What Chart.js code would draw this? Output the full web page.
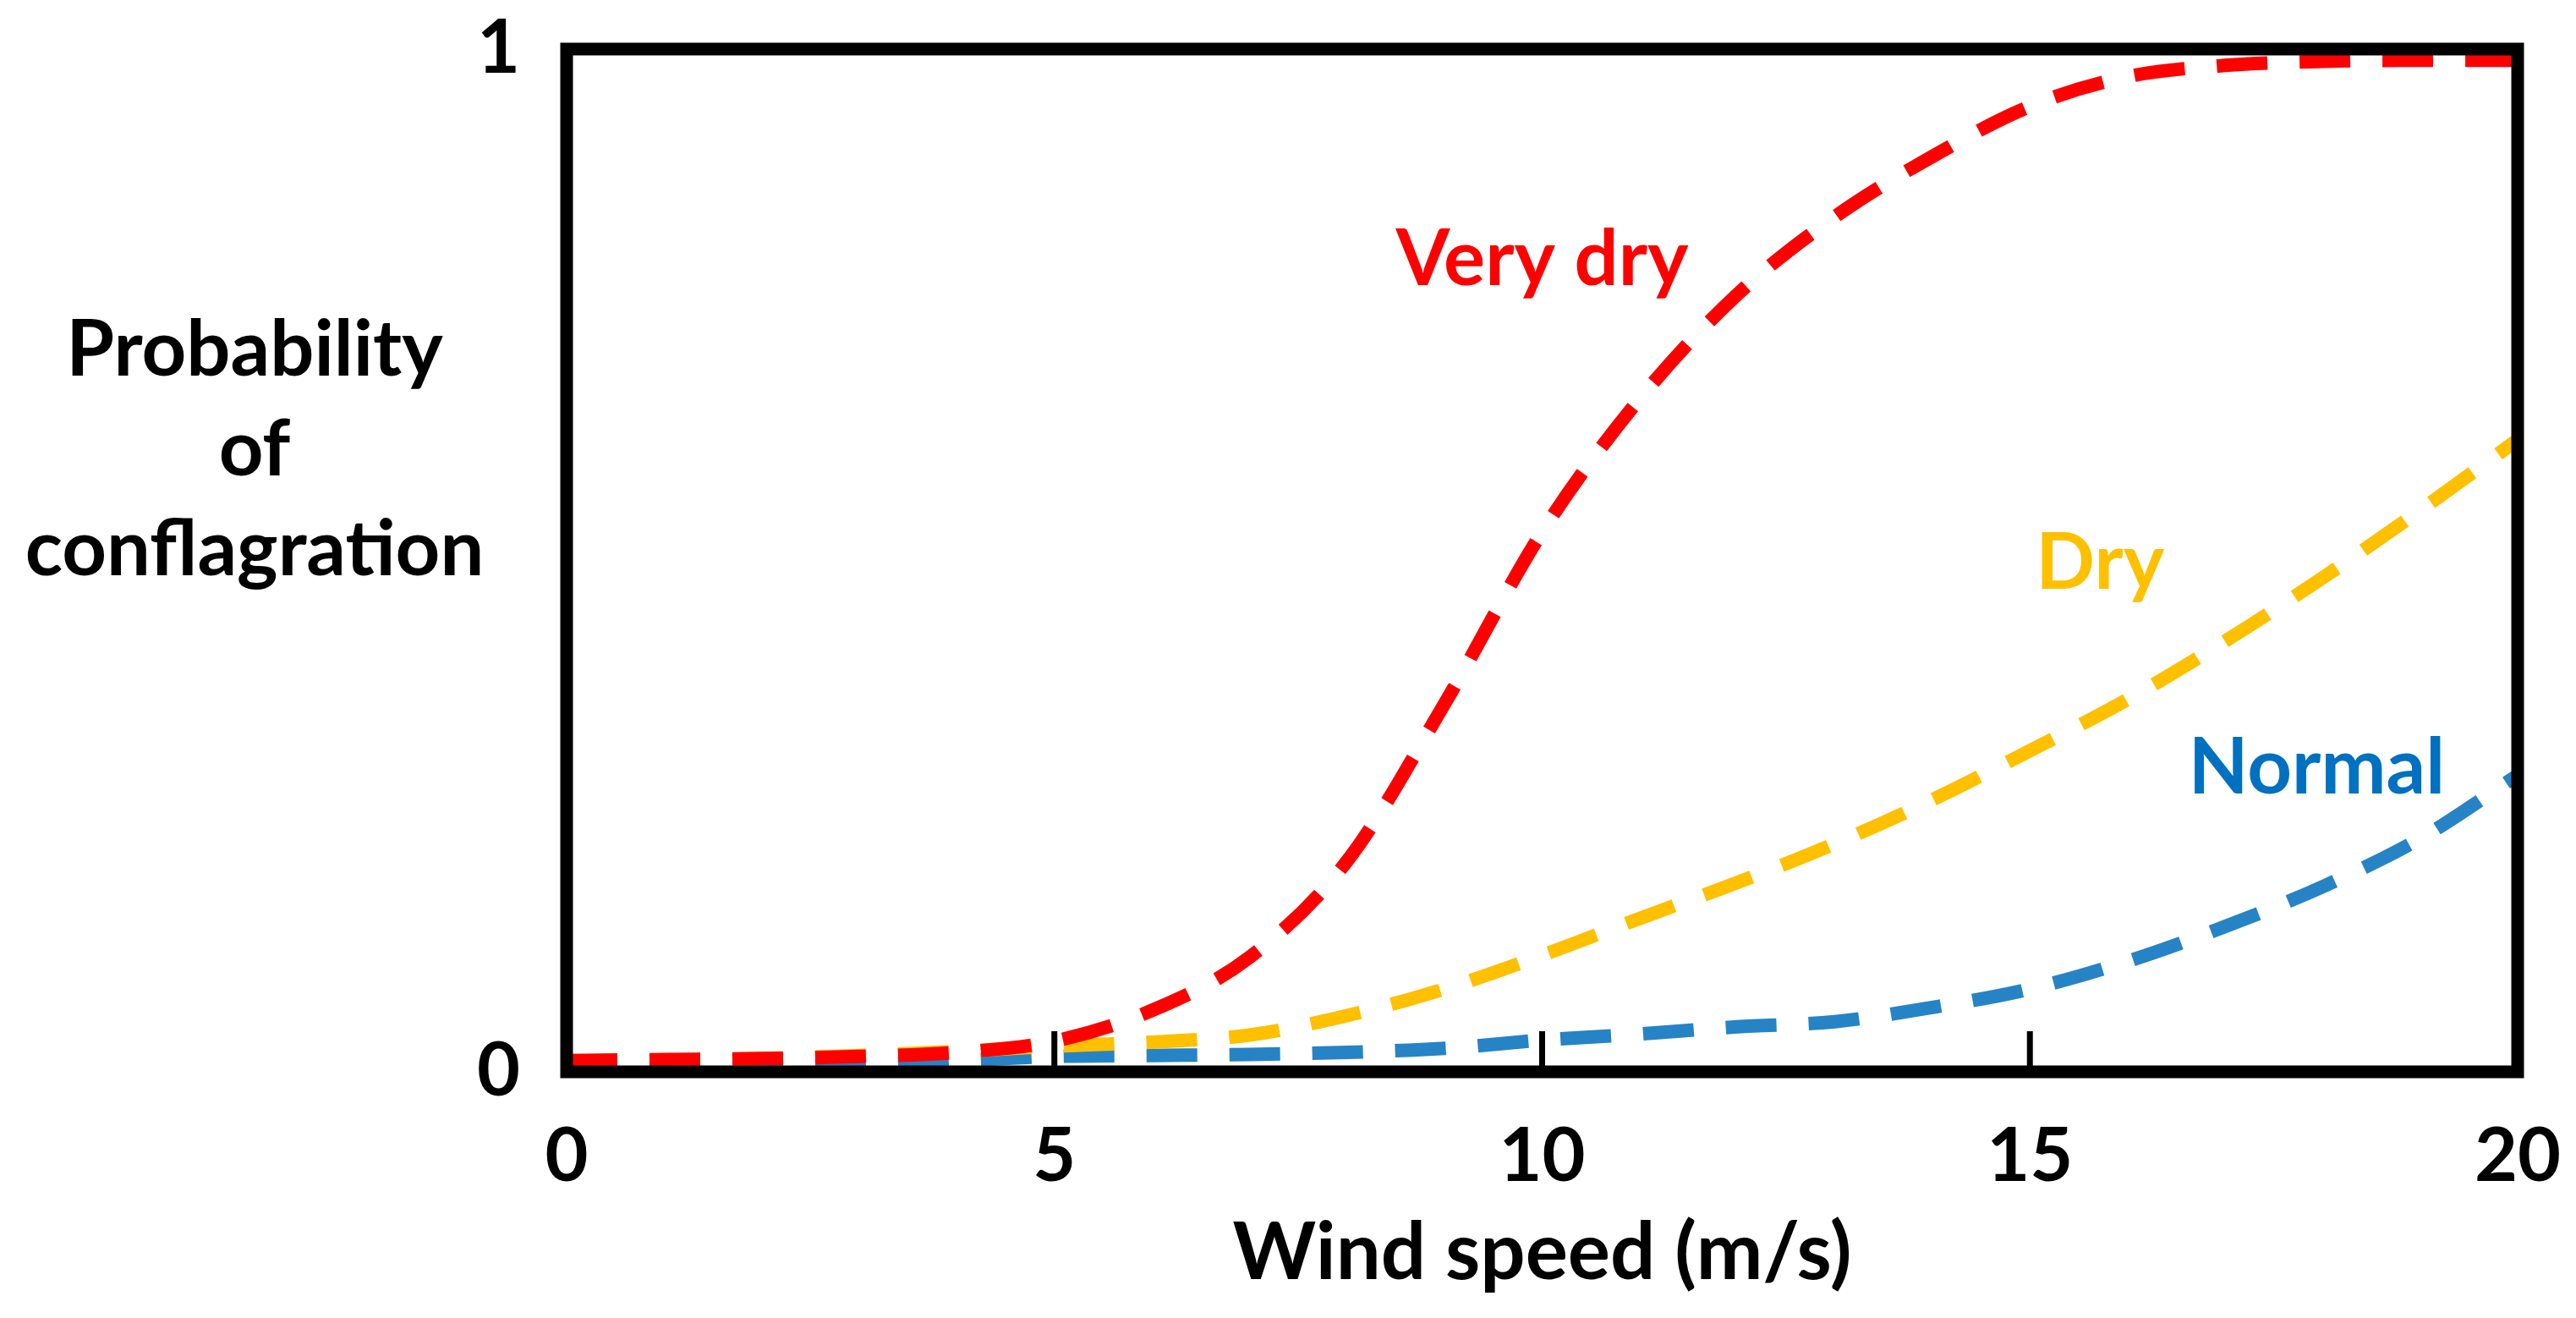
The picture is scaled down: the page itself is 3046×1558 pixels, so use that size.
<!DOCTYPE html>
<html>
<head>
<meta charset="utf-8">
<script src="https://cdn.jsdelivr.net/npm/chart.js@4.4.0/dist/chart.umd.min.js"></script>
<style>
    html, body { margin: 0; padding: 0; background: #fff; }
    #wrap { width: 3046px; height: 1558px; position: relative; }
</style>
</head>
<body>
<div id="wrap"><canvas id="chart"></canvas></div>
<script>
// wind speed (m/s) and the three probability curves
const windSpeed = [0, 1, 2, 3, 4, 5, 6, 7, 8, 9, 10, 11, 12, 13, 14, 15, 16, 17, 18, 19, 20];
const veryDry = [0.011, 0.012, 0.013, 0.015, 0.019, 0.03, 0.06, 0.112, 0.206, 0.36, 0.528, 0.658, 0.76, 0.836, 0.895, 0.944, 0.973, 0.984, 0.988, 0.989, 0.989];
const dry = [0.01, 0.011, 0.013, 0.016, 0.02, 0.025, 0.029, 0.036, 0.055, 0.081, 0.114, 0.15, 0.185, 0.223, 0.266, 0.314, 0.364, 0.421, 0.483, 0.549, 0.618];
const normal = [0.002, 0.003, 0.004, 0.007, 0.011, 0.015, 0.016, 0.017, 0.019, 0.023, 0.031, 0.037, 0.044, 0.049, 0.063, 0.081, 0.108, 0.142, 0.181, 0.228, 0.29];
const xTicks = [0, 5, 10, 15, 20];
const yTicks = [0, 1];
const innerTicks = [5, 10, 15];
const yTitle = ["Probability", "of", "conflagration"];
const curveNames = ["Very dry", "Dry", "Normal"];

const fontFamily = "Lato, 'Open Sans', sans-serif";
const red = "#FF0000";
const gold = "#FFC000";
const blue = "#2683C6";

// where the curve names sit, in data units
const nameSpots = [
    { x: 10, y: 0.794, color: red },
    { x: 15.72, y: 0.497, color: gold },
    { x: 17.94, y: 0.297, color: "#0070C0" },
];

const toPoints = (ys) => ys.map((y, i) => ({ x: windSpeed[i], y: y }));

const lineStyle = {
    borderWidth: 16,
    borderDash: [60, 38],
    pointRadius: 0,
    fill: false,
    cubicInterpolationMode: "monotone",
    borderCapStyle: "butt",
};

// labels hanging over the plot edges should not push the frame in
const noEdgePadding = (axis) => {
    axis.paddingLeft = 0;
    axis.paddingRight = 0;
    axis.paddingTop = 0;
    axis.paddingBottom = 0;
};

const framePlugin = {
    id: "frame",
    afterDatasetsDraw(chart) {
        const { ctx, chartArea, scales } = chart;
        ctx.save();
        ctx.strokeStyle = "#000";
        ctx.lineWidth = 15;
        ctx.lineJoin = "miter";
        ctx.strokeRect(chartArea.left, chartArea.top, chartArea.right - chartArea.left, chartArea.bottom - chartArea.top);
        // short ticks pointing into the plot
        ctx.lineWidth = 7;
        innerTicks.forEach((v) => {
            const px = scales.x.getPixelForValue(v);
            ctx.beginPath();
            ctx.moveTo(px, chartArea.bottom);
            ctx.lineTo(px, chartArea.bottom - 48);
            ctx.stroke();
        });
        ctx.restore();
    },
    afterDraw(chart) {
        const { ctx, scales } = chart;
        ctx.save();
        ctx.textAlign = "center";
        ctx.textBaseline = "middle";
        ctx.font = "bold 92px " + fontFamily;
        ctx.fillStyle = "#000";
        yTitle.forEach((line, i) => {
            ctx.fillText(line, 301, 414 + i * 118);
        });
        curveNames.forEach((name, i) => {
            const spot = nameSpots[i];
            ctx.fillStyle = spot.color;
            ctx.fillText(name, scales.x.getPixelForValue(spot.x), scales.y.getPixelForValue(spot.y));
        });
        ctx.restore();
    },
};

new Chart(document.getElementById("chart"), {
    type: "line",
    data: {
        datasets: [
            { label: curveNames[0], data: toPoints(veryDry), borderColor: red, ...lineStyle },
            { label: curveNames[1], data: toPoints(dry), borderColor: gold, ...lineStyle },
            { label: curveNames[2], data: toPoints(normal), borderColor: blue, ...lineStyle },
        ],
    },
    options: {
        responsive: true,
        maintainAspectRatio: false,
        animation: false,
        devicePixelRatio: 1,
        layout: {
            padding: { top: 58, right: 69, left: 0, bottom: 0 },
        },
        plugins: {
            legend: { display: false },
            tooltip: { enabled: false },
        },
        scales: {
            x: {
                type: "linear",
                min: 0,
                max: 20,
                afterBuildTicks: (axis) => {
                    axis.ticks = xTicks.map((v) => ({ value: v }));
                },
                afterFit: (axis) => {
                    axis.height = 291;
                    noEdgePadding(axis);
                },
                grid: { display: false, drawTicks: false },
                border: { display: false },
                ticks: {
                    color: "#000",
                    padding: 48,
                    maxRotation: 0,
                    font: { family: fontFamily, size: 88, weight: "bold" },
                },
                title: {
                    display: true,
                    text: "Wind speed (m/s)",
                    color: "#000",
                    font: { family: fontFamily, size: 94, weight: "bold" },
                    padding: { top: 10, bottom: 20 },
                },
            },
            y: {
                min: 0,
                max: 1,
                afterBuildTicks: (axis) => {
                    axis.ticks = yTicks.map((v) => ({ value: v }));
                },
                afterFit: (axis) => {
                    axis.width = 670;
                    noEdgePadding(axis);
                },
                grid: { display: false, drawTicks: false },
                border: { display: false },
                ticks: {
                    color: "#000",
                    padding: 55,
                    font: { family: fontFamily, size: 88, weight: "bold" },
                },
            },
        },
    },
    plugins: [framePlugin],
});
</script>
</body>
</html>
